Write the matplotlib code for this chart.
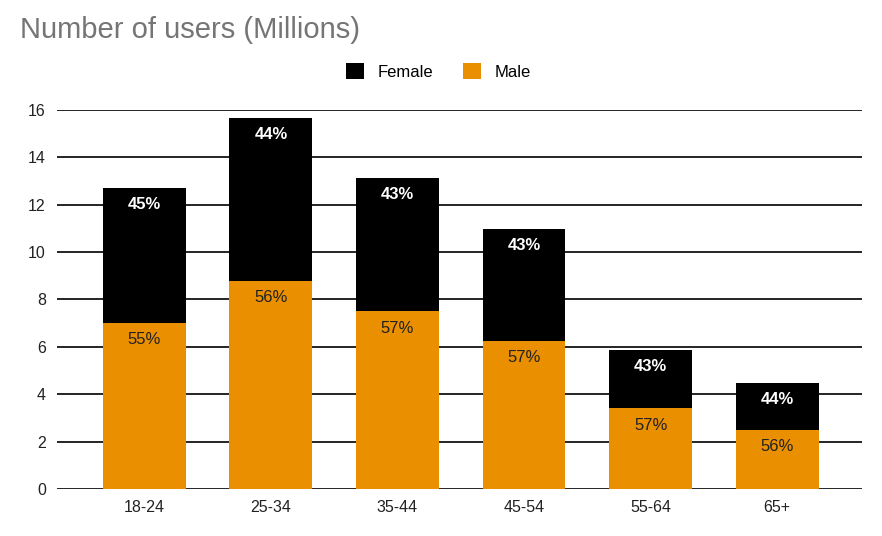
import matplotlib
matplotlib.use("Agg")
import matplotlib.pyplot as plt
from matplotlib.patches import Patch

categories = ["18-24", "25-34", "35-44", "45-54", "55-64", "65+"]
male = [7.0, 8.8, 7.5, 6.25, 3.4, 2.5]
female = [5.7, 6.86, 5.63, 4.72, 2.47, 1.97]
male_labels = ["55%", "56%", "57%", "57%", "57%", "56%"]
female_labels = ["45%", "44%", "43%", "43%", "43%", "44%"]

plt.rcParams['font.family'] = ['Liberation Sans', 'DejaVu Sans']
orange = "#E98F00"

fig = plt.figure(figsize=(8.82, 5.36), dpi=100)
ax = fig.add_axes([0.0646, 0.0877, 0.9127, 0.7071])
x = list(range(len(categories)))
w = 0.655
ax.bar(x, male, width=w, color=orange, zorder=3)
ax.bar(x, female, width=w, bottom=male, color="black", zorder=3)

for i in x:
    ax.annotate(male_labels[i], (i, male[i]), xytext=(0, -12), textcoords="offset points",
                ha="center", va="center", fontsize=12, color="#222222", zorder=4)
    ax.annotate(female_labels[i], (i, male[i] + female[i]), xytext=(0, -12), textcoords="offset points",
                ha="center", va="center", fontsize=12, color="white", fontweight="bold", zorder=4)

ax.set_xlim(-0.69, 5.67)
ax.set_ylim(0, 16)
ax.set_yticks(range(0, 17, 2))
ax.set_xticks(x)
ax.set_xticklabels(categories)
ax.yaxis.grid(True, color="black", linewidth=1.2, zorder=0)
ax.set_axisbelow(True)
for s in ax.spines.values():
    s.set_visible(False)
ax.tick_params(axis="both", length=0, labelsize=11.5, colors="#222222")
ax.tick_params(axis="y", pad=8)
ax.tick_params(axis="x", pad=8)

fig.text(0.0227, 0.944, "Number of users (Millions)", fontsize=21, color="#757575", ha="left", va="center")

handles = [Patch(facecolor="black", label="Female"), Patch(facecolor=orange, label="Male")]
fig.legend(handles=handles, loc="center", bbox_to_anchor=(0.497, 0.866), ncol=2, frameon=False,
           fontsize=12, handlelength=1.1, handleheight=1.1, columnspacing=1.8, handletextpad=0.8)

fig.savefig("out.png", dpi=100)
